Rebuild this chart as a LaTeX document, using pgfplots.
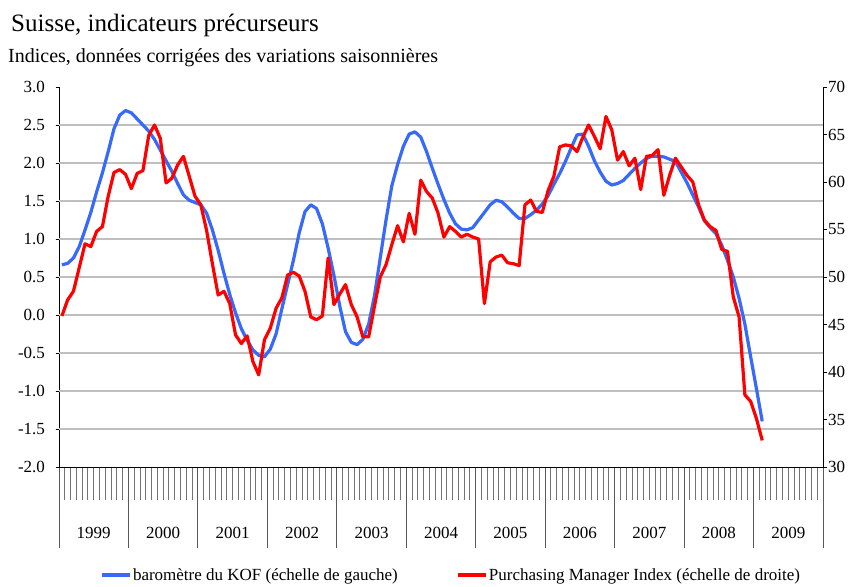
\documentclass[border=0pt]{standalone}
\usepackage{pgfplots}
\pgfplotsset{compat=1.18}
\usepackage{pgfplotstable}
\usepackage{fontspec}
\setmainfont{Liberation Serif}
\definecolor{kofblue}{RGB}{55,105,250}
\definecolor{pmired}{RGB}{255,0,0}

\pgfplotstableread{
m v
0 0.66
1 0.68
2 0.75
3 0.90
4 1.12
5 1.35
6 1.62
7 1.87
8 2.15
9 2.45
10 2.63
11 2.69
12 2.66
13 2.58
14 2.50
15 2.42
16 2.31
17 2.17
18 2.03
19 1.89
20 1.73
21 1.58
22 1.51
23 1.48
24 1.45
25 1.34
26 1.12
27 0.85
28 0.55
29 0.27
30 0.03
31 -0.18
32 -0.33
33 -0.46
34 -0.53
35 -0.55
36 -0.45
37 -0.25
38 0.08
39 0.40
40 0.72
41 1.08
42 1.36
43 1.45
44 1.40
45 1.20
46 0.88
47 0.52
48 0.12
49 -0.22
50 -0.36
51 -0.39
52 -0.32
53 -0.12
54 0.25
55 0.75
56 1.25
57 1.70
58 1.98
59 2.22
60 2.38
61 2.41
62 2.34
63 2.15
64 1.93
65 1.72
66 1.52
67 1.34
68 1.20
69 1.13
70 1.12
71 1.15
72 1.25
73 1.35
74 1.45
75 1.51
76 1.49
77 1.42
78 1.34
79 1.27
80 1.27
81 1.32
82 1.38
83 1.46
84 1.57
85 1.72
86 1.86
87 2.02
88 2.20
89 2.37
90 2.38
91 2.22
92 2.03
93 1.88
94 1.76
95 1.71
96 1.73
97 1.77
98 1.85
99 1.93
100 2.00
101 2.06
102 2.09
103 2.09
104 2.08
105 2.05
106 2.02
107 1.88
108 1.74
109 1.58
110 1.42
111 1.24
112 1.15
113 1.07
114 0.92
115 0.72
116 0.50
117 0.22
118 -0.12
119 -0.55
120 -0.97
121 -1.40
}\kofdata

\pgfplotstableread{
m v
0 45.9
1 47.6
2 48.5
3 51.0
4 53.5
5 53.2
6 54.8
7 55.3
8 58.5
9 61.0
10 61.3
11 60.8
12 59.3
13 60.9
14 61.2
15 64.9
16 66.0
17 64.6
18 59.9
19 60.4
20 61.8
21 62.7
22 60.6
23 58.5
24 57.6
25 54.9
26 51.4
27 48.1
28 48.5
29 47.2
30 43.9
31 43.0
32 43.8
33 41.1
34 39.7
35 43.4
36 44.6
37 46.7
38 47.8
39 50.2
40 50.5
41 50.1
42 48.5
43 45.8
44 45.5
45 45.9
46 52.0
47 47.1
48 48.2
49 49.2
50 47.1
51 45.8
52 43.7
53 43.7
54 46.9
55 50.0
56 51.3
57 53.4
58 55.4
59 53.7
60 56.7
61 54.5
62 60.2
63 59.0
64 58.3
65 56.7
66 54.2
67 55.3
68 54.8
69 54.2
70 54.5
71 54.2
72 54.0
73 47.2
74 51.6
75 52.1
76 52.3
77 51.5
78 51.4
79 51.2
80 57.6
81 58.1
82 56.9
83 56.8
84 59.1
85 60.6
86 63.7
87 63.9
88 63.8
89 63.2
90 64.7
91 66.0
92 64.8
93 63.5
94 66.9
95 65.5
96 62.3
97 63.2
98 61.7
99 62.5
100 59.2
101 62.7
102 62.8
103 63.4
104 58.6
105 60.7
106 62.5
107 61.6
108 60.7
109 60.0
110 57.6
111 56.0
112 55.3
113 54.9
114 52.9
115 52.7
116 47.9
117 45.8
118 37.6
119 36.9
120 35.1
121 32.8
}\pmidata

\begin{document}
\begin{tikzpicture}
\path[use as bounding box] (0,0) rectangle (858pt,586pt);
\node[anchor=base west, inner sep=0pt, font=\fontsize{25}{29}\selectfont] at (11pt,554pt) {Suisse, indicateurs précurseurs};
\node[anchor=base west, inner sep=0pt, font=\fontsize{20}{24}\selectfont] at (8pt,523pt) {Indices, données corrigées des variations saisonnières};

% left axis: KOF
\begin{axis}[
  at={(59pt,119pt)}, anchor=south west,
  scale only axis, width=764pt, height=380pt,
  xmin=-0.5, xmax=131.5, ymin=-2, ymax=3,
  axis x line*=bottom, axis y line*=left,
  axis line style={black, line width=0.9pt},
  tick align=outside,
  major tick length=3.5pt,
  minor tick length=33pt,
  xtick={5.5,17.5,...,125.5},
  xticklabels={1999,2000,2001,2002,2003,2004,2005,2006,2007,2008,2009},
  major x tick style={draw=none},
  minor xtick={-0.5,0.5,...,131.5},
  minor x tick style={black!55, line width=1pt},
  xticklabel style={anchor=center, yshift=-62.5pt},
  ytick={-2,-1.5,...,3},
  yticklabels={-2.0,-1.5,-1.0,-0.5,0.0,0.5,1.0,1.5,2.0,2.5,3.0},
  yticklabel style={xshift=-7pt},
  ytick style={black, line width=0.8pt},
  tick label style={font=\fontsize{17}{20}\selectfont},
  extra y ticks={-1.5,-1,...,2.5},
  extra y tick labels={},
  extra y tick style={grid=major},
  major grid style={black!25, line width=1.3pt},
]
\addplot[kofblue, line width=3.2pt, line join=round, no marks] table[x=m, y=v] {\kofdata};
\end{axis}

% year separators
\begin{axis}[
  at={(59pt,119pt)}, anchor=south west,
  scale only axis, width=764pt, height=380pt,
  xmin=-0.5, xmax=131.5, ymin=-2, ymax=3,
  axis x line*=bottom, axis y line=none,
  axis line style={black, line width=0.9pt},
  tick align=outside,
  major tick length=81pt,
  xtick={-0.5,11.5,...,131.5},
  xticklabels={},
  x tick style={black!65, line width=1pt},
  ytick=\empty,
]
\end{axis}

% right axis: PMI
\begin{axis}[
  at={(59pt,119pt)}, anchor=south west,
  scale only axis, width=764pt, height=380pt,
  xmin=-0.5, xmax=131.5, ymin=30, ymax=70,
  axis x line=none, axis y line*=right,
  axis line style={black, line width=0.9pt},
  tick align=outside,
  major tick length=3.5pt,
  ytick={30,35,...,70},
  yticklabels={30,35,40,45,50,55,60,65,70},
  yticklabel style={xshift=-2pt},
  ytick style={black, line width=0.8pt},
  tick label style={font=\fontsize{17}{20}\selectfont},
  legend columns=2,
  legend style={draw=none, fill=none, at={(0.513,-0.284)}, anchor=center,
    font=\fontsize{17}{20}\selectfont,
    /tikz/every even column/.append style={column sep=58pt},
    nodes={inner xsep=1pt}},
  legend image code/.code={\draw[#1] (0pt,0pt) -- (28pt,0pt);},
]
\addlegendimage{kofblue, line width=3.2pt}
\addlegendentry{baromètre du KOF (échelle de gauche)}
\addplot[pmired, line width=3.2pt, line join=round, no marks] table[x=m, y=v] {\pmidata};
\addlegendentry{Purchasing Manager Index (échelle de droite)}
\end{axis}
\end{tikzpicture}
\end{document}
